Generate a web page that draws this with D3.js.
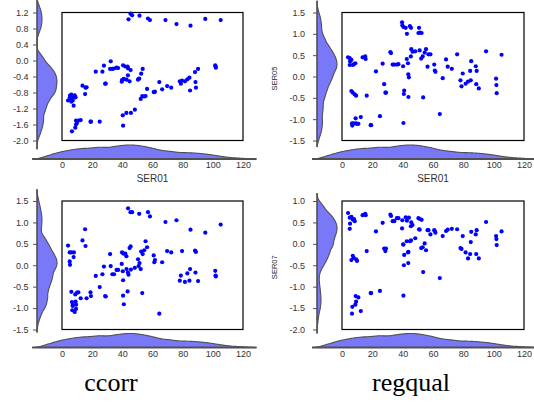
<!DOCTYPE html>
<html>
<head>
<meta charset="utf-8">
<script src="https://cdn.jsdelivr.net/npm/d3@7"></script>
<style>
  body { margin: 0; background: #fff; }
  svg { display: block; }
</style>
</head>
<body>
<svg id="chart" width="534" height="409"></svg>
<script>
// Shared horizontal series (SER01)
const ser01 = [
  4.0, 5.1, 5.1, 5.3, 6.2, 6.2, 6.6, 6.8, 7.1, 7.1, 7.7, 7.9, 8.4, 8.8, 9.0, 9.3, 9.3, 9.9, 10.8, 12.4,
  13.6, 15.3, 15.6, 16.3, 18.9, 19.2,
  22.4, 25.0, 26.8, 27.8, 28.6, 29.0,
  31.9, 32.3, 33.4, 34.5, 36.2, 37.2,
  39.6, 39.8, 40.3, 40.5, 40.5, 40.8, 41.0, 42.0, 42.7, 42.8, 43.5, 43.7, 43.8, 44.1, 44.8, 45.4, 45.5, 45.7, 46.5, 48.3,
  50.4, 50.8, 51.2, 51.4, 52.2, 52.5, 53.2, 53.5, 54.5, 55.4, 56.4, 57.0, 58.3,
  60.8, 61.2, 61.6,
  64.5, 66.4, 68.6, 69.7, 72.4, 75.9,
  78.1, 78.8, 79.6,
  81.5, 83.1, 84.5, 84.9, 85.2,
  88.2, 88.5, 88.8,
  90.2, 95.0,
  101.6, 101.8, 102.0,
  105.2
];

// Vertical series, one per panel
const yTopLeft = [
  -1.00, -0.93, -0.98, -0.88, -0.85, -1.03, -1.77, -0.95, -0.90, -1.00, -1.13, -0.92, -0.87, -1.68, -0.92, -1.50, -1.60, -1.56, -1.50, -1.49,
  -0.63, -0.84, -0.68, -0.67, -1.53, -1.53,
  -0.28, -1.53, -0.28, -0.13, -0.58, -0.58,
  -0.21, -0.02, -0.21, -0.20, -0.18, -0.19,
  -0.53, -0.49, -1.37, -1.63, -0.12, -0.47, -0.46, -0.15, -1.31, -0.48, -0.15, -0.37, -0.20, 1.03, -0.52, 1.17, -0.24, -1.31, 1.13, -1.23,
  -0.48, -0.46, -0.45, 1.12, -0.96, -0.33, -0.89, -0.21, -0.90, -0.89, -0.71, 1.05, 1.01,
  -0.79, -0.79, -0.78,
  -0.54, -0.72, 1.01, -0.64, -0.68, 0.91,
  -0.52, -0.58, -0.50,
  -0.52, -0.47, -0.43, -0.75, 0.87,
  -0.29, -0.54, -0.68,
  -0.21, 1.04,
  -0.12, -0.15, -0.18,
  1.01
];

const ser05 = [
  0.45, 0.27, 0.43, 0.35, 0.39, -0.34, -1.10, -1.15, 0.27, -0.38, -1.10, 0.29, -0.42, 0.31, -0.98, -0.45, -1.10, -1.11, -1.11, -0.95,
  0.45, 0.47, 0.41, -0.45, -1.14, -1.14,
  0.12, -0.93, 0.30, -0.18, -0.38, -0.38,
  0.57, 0.55, 0.28, 0.28, 0.28, 0.29,
  1.27, 1.20, 0.24, 1.16, -1.09, -0.41, -0.33, 1.14, 0.41, 1.00, 0.31, 0.05, -0.48, -0.02, 1.18, 0.47, 1.14, 0.64, 0.58, 0.59,
  1.02, 1.14, 0.61, 1.03, 0.42, 1.02, 0.47, -0.49, 0.56, 0.64, 0.23, 0.52, 0.52,
  0.28, 0.14, 0.11,
  -0.88, -0.04, 0.40, 0.23, 0.18, 0.52,
  -0.09, -0.23, 0.07,
  -0.17, -0.12, 0.13, -0.09, 0.36,
  0.24, -0.18, 0.13,
  -0.28, 0.59,
  -0.05, -0.20, -0.39,
  0.51
];

const yBottomLeft = [
  0.46, 0.30, 0.09, 0.01, 0.30, -0.62, -0.86, -1.05, -0.93, -0.95, 0.19, 0.30, -1.09, -0.68, -0.85, -0.92, -1.02, -0.64, -0.63, -0.77,
  0.58, 0.84, 0.45, -0.77, -0.63, -0.72,
  -0.25, -0.51, -0.21, -0.03, -0.72, -0.73,
  0.26, -0.02, -0.21, -0.21, -0.11, -0.11,
  0.03, 0.30, -0.14, -0.35, -0.71, 0.27, -0.91, 0.27, 0.21, -0.09, -0.61, -0.17, 1.33, -0.22, 0.40, 1.24, 0.44, -0.10, 1.24, -0.06,
  0.14, -0.02, 1.20, 0.05, -0.09, 0.32, -0.65, 0.26, 0.35, 0.56, 0.42, 1.24, 1.14,
  0.23, 0.07, 0.12,
  -1.13, 0.07, 1.01, 0.33, 0.30, 1.05,
  -0.36, -0.24, 0.33,
  -0.39, -0.19, -0.36, -0.09, 0.83,
  0.34, -0.17, 0.31,
  -0.37, 0.76,
  -0.13, -0.24, -0.26,
  0.95
];

const ser07 = [
  0.72, 0.61, 0.35, 0.47, 0.63, -0.38, -1.63, -1.47, 0.57, -0.28, -0.33, 0.58, 0.53, -1.42, -1.22, -0.36, -1.35, -0.40, -1.25, -1.57,
  0.67, 0.70, 0.67, -0.17, -1.15, -1.15,
  0.29, -1.10, 0.49, -0.11, -0.17, -0.11,
  0.68, 0.65, 0.53, 0.53, 0.60, 0.60,
  0.36, 0.55, -0.01, -1.21, -0.02, -0.50, -0.26, 0.62, 0.06, 0.54, -0.20, -0.45, -0.19, 0.61, 0.06, 0.41, 0.08, 0.50, 0.44, 0.13,
  0.60, 0.34, 0.33, 0.58, -0.10, 0.56, -0.08, -0.66, 0.01, -0.15, 0.32, 0.32, 0.22,
  0.32, 0.30, 0.26,
  -0.80, 0.18, 0.30, 0.33, 0.35, 0.34,
  -0.10, -0.12, 0.18,
  -0.20, -0.34, -0.24, 0.04, 0.28,
  0.22, -0.24, 0.32,
  -0.34, 0.51,
  0.18, 0.11, -0.03,
  0.29
];

// Tick values
const xTicks = [0, 20, 40, 60, 80, 100, 120];
const ticksTopLeft = [-2.0, -1.6, -1.2, -0.8, -0.4, 0.0, 0.4, 0.8, 1.2];
const ticksHalfStep = [-1.5, -1.0, -0.5, 0.0, 0.5, 1.0, 1.5];
const ticksSer07 = [-2.0, -1.5, -1.0, -0.5, 0.0, 0.5, 1.0];
const captions = [{ text: "ccorr", x: 111 }, { text: "regqual", x: 411 }];

// Panel layout
const panels = [
  { y: yTopLeft, yDomain: [-2.0, 1.2], ticks: ticksTopLeft,
    box: { l: 62, r: 243, t: 12.5, b: 140.5 }, yBase: 37, xBase: 159, pad: 4.5, xTitle: "SER01", yTitle: null },
  { y: ser05, yDomain: [-1.5, 1.5], ticks: ticksHalfStep,
    box: { l: 342, r: 524, t: 12.5, b: 140.5 }, yBase: 317, xBase: 159, pad: 8, xTitle: "SER01", yTitle: "SER05" },
  { y: yBottomLeft, yDomain: [-1.5, 1.5], ticks: ticksHalfStep,
    box: { l: 62, r: 243, t: 201, b: 329.5 }, yBase: 37, xBase: 347.5, pad: 4.5, xTitle: null, yTitle: null },
  { y: ser07, yDomain: [-2.0, 1.0], ticks: ticksSer07,
    box: { l: 342, r: 524, t: 201, b: 329.5 }, yBase: 317, xBase: 347.5, pad: 8, xTitle: null, yTitle: "SER07" }
];

const fmt = d3.formatLocale({ decimal: ".", thousands: ",", grouping: [3], currency: ["", ""], minus: "-" }).format(".1f");
const FILL = "#7878f8";
const EDGE = "#505050";
const TEXT = "#333333";
const FONT = "'Liberation Sans', Arial, sans-serif";

// Epanechnikov kernel density, bandwidth 0.9·k·min(s, IQR/1.34)·n^(-1/5)
function kde(values, steps) {
  const v = values.slice().sort(d3.ascending);
  const n = v.length;
  const sd = d3.deviation(v);
  const iqr = d3.quantileSorted(v, 0.75) - d3.quantileSorted(v, 0.25);
  const h = 0.9 * 2.345 * Math.min(sd, iqr / 1.34) * Math.pow(n, -0.2);
  const lo = v[0] - h, hi = v[n - 1] + h;
  const pts = [];
  for (let i = 0; i <= steps; i++) {
    const t = lo + (hi - lo) * i / steps;
    let s = 0;
    for (const x of v) {
      const u = (t - x) / h;
      if (Math.abs(u) < 1) s += 0.75 * (1 - u * u);
    }
    pts.push([t, s / (n * h)]);
  }
  return pts;
}

const svg = d3.select("#chart");
const xDens = kde(ser01, 240);

panels.forEach(p => {
  const g = svg.append("g");
  const x = d3.scaleLinear().domain([0, 120]).range([p.box.l, p.box.r]);
  const y = d3.scaleLinear().domain(p.yDomain).range([p.box.b, p.box.t]);

  // Marginal density along the vertical axis
  const yDens = kde(p.y, 240);
  const wy = d3.scaleLinear().domain([0, d3.max(yDens, d => d[1])]).range([0, 20]);
  g.append("path")
    .datum(yDens)
    .attr("fill", FILL)
    .attr("stroke", "none")
    .attr("d", d3.area().y(d => y(d[0])).x0(p.yBase).x1(d => p.yBase + wy(d[1])).curve(d3.curveBasis));
  g.append("path")
    .datum(yDens)
    .attr("fill", "none")
    .attr("stroke", EDGE)
    .attr("stroke-width", 1.1)
    .attr("d", d3.line().y(d => y(d[0])).x(d => p.yBase + wy(d[1])).curve(d3.curveBasis));
  g.append("line")
    .attr("x1", p.yBase).attr("x2", p.yBase)
    .attr("y1", y(yDens[0][0])).attr("y2", y(yDens[yDens.length - 1][0]))
    .attr("stroke", EDGE).attr("stroke-width", 1.6);

  const yAxis = g.append("g")
    .attr("transform", `translate(${p.yBase},0)`)
    .call(d3.axisLeft(y).tickValues(p.ticks).tickFormat(fmt).tickSize(4).tickPadding(p.pad));
  yAxis.select(".domain").remove();
  yAxis.selectAll("line").attr("stroke", EDGE);
  yAxis.selectAll("text").attr("fill", TEXT).style("font", `9px ${FONT}`);

  // Marginal density along the horizontal axis
  const hx = d3.scaleLinear().domain([0, d3.max(xDens, d => d[1])]).range([0, 14]);
  g.append("path")
    .datum(xDens)
    .attr("fill", FILL)
    .attr("stroke", "none")
    .attr("d", d3.area().x(d => x(d[0])).y0(p.xBase).y1(d => p.xBase - hx(d[1])).curve(d3.curveBasis));
  g.append("path")
    .datum(xDens)
    .attr("fill", "none")
    .attr("stroke", EDGE)
    .attr("stroke-width", 1.1)
    .attr("d", d3.line().x(d => x(d[0])).y(d => p.xBase - hx(d[1])).curve(d3.curveBasis));
  g.append("line")
    .attr("x1", x(xDens[0][0])).attr("x2", x(xDens[xDens.length - 1][0]))
    .attr("y1", p.xBase).attr("y2", p.xBase)
    .attr("stroke", EDGE).attr("stroke-width", 1.8);

  const xAxis = g.append("g")
    .attr("transform", `translate(0,${p.xBase})`)
    .call(d3.axisBottom(x).tickValues(xTicks).tickFormat(d3.format("d")).tickSize(0).tickPadding(3));
  xAxis.select(".domain").remove();
  xAxis.selectAll("text").attr("fill", TEXT).style("font", `9px ${FONT}`);

  // Scatter box
  g.append("rect")
    .attr("x", p.box.l).attr("y", p.box.t)
    .attr("width", p.box.r - p.box.l).attr("height", p.box.b - p.box.t)
    .attr("fill", "#fff").attr("stroke", "#000").attr("stroke-width", 1.2);

  g.append("g").selectAll("circle")
    .data(ser01.map((v, i) => [v, p.y[i]]))
    .join("circle")
    .attr("cx", d => x(d[0]))
    .attr("cy", d => y(d[1]))
    .attr("r", 2.1)
    .attr("fill", "#0000ff");

  if (p.xTitle) {
    g.append("text")
      .attr("x", (p.box.l + p.box.r) / 2).attr("y", p.xBase + 23)
      .attr("text-anchor", "middle").attr("fill", TEXT)
      .style("font", `10px ${FONT}`)
      .text(p.xTitle);
  }
  if (p.yTitle) {
    g.append("text")
      .attr("transform", `translate(277,${(p.box.t + p.box.b) / 2 + 2}) rotate(-90)`)
      .attr("text-anchor", "middle").attr("fill", "#222")
      .style("font", `7.5px ${FONT}`)
      .text(p.yTitle);
  }
});

svg.selectAll("text.caption")
  .data(captions)
  .join("text")
  .attr("class", "caption")
  .attr("x", d => d.x).attr("y", 391)
  .attr("text-anchor", "middle")
  .attr("fill", "#000")
  .style("font", "26px 'Liberation Serif', 'Times New Roman', serif")
  .text(d => d.text);
</script>
</body>
</html>
